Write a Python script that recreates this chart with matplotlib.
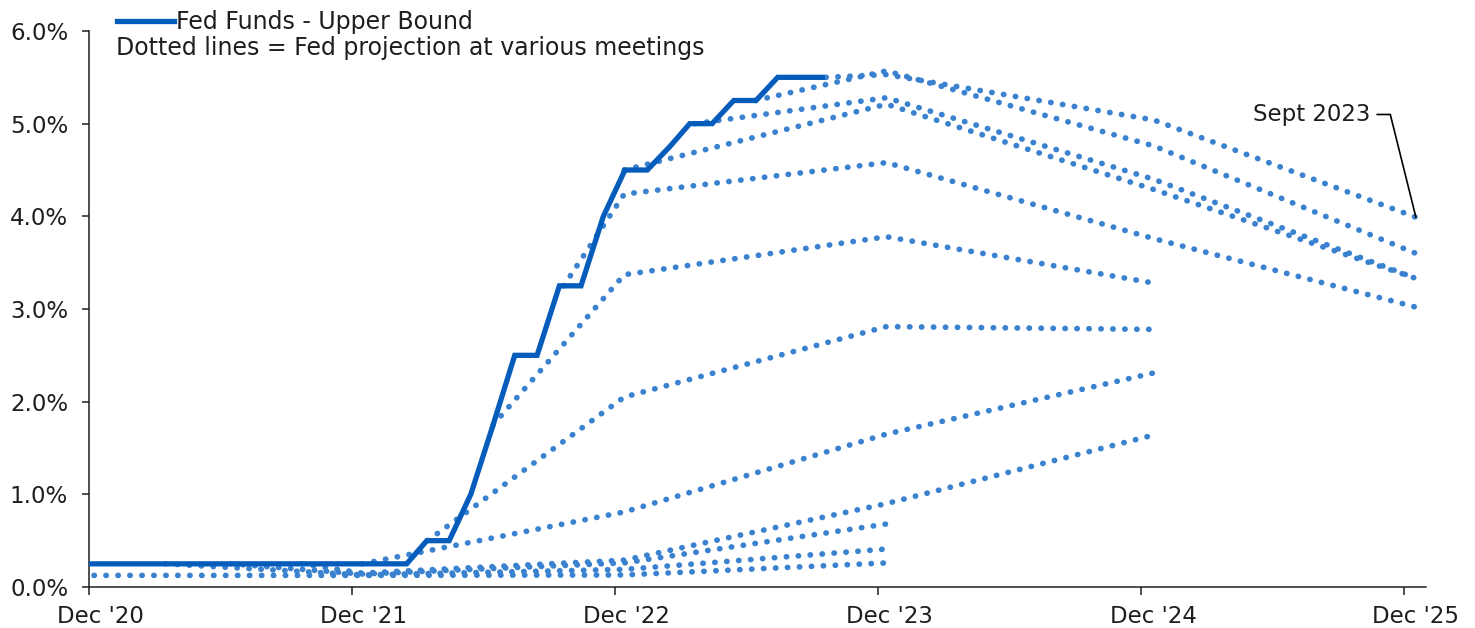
import matplotlib
matplotlib.use("Agg")
import matplotlib.pyplot as plt
import matplotlib.dates as mdates
import matplotlib.ticker as mticker
import pandas as pd

# Fed funds upper bound, monthly (mid-month)
ff_dates = pd.date_range("2020-11-01", "2023-09-01", freq="MS") + pd.Timedelta(days=14)
ff_upper = [0.25, 0.25,
            0.25, 0.25, 0.25, 0.25, 0.25, 0.25, 0.25, 0.25, 0.25, 0.25, 0.25, 0.25,
            0.25, 0.25, 0.50, 0.50, 1.00, 1.75, 2.50, 2.50, 3.25, 3.25, 4.00, 4.50,
            4.50, 4.75, 5.00, 5.00, 5.25, 5.25, 5.50, 5.50, 5.50]

# SEP meetings: meeting date, rate at the meeting, year-end projections
year_ends = ["2021-12-15", "2022-12-14", "2023-12-13", "2024-12-18", "2025-12-17"]
meeting_dates = ["2020-12-08", "2021-03-17", "2021-06-16", "2021-09-22",
                 "2021-12-15", "2022-03-16", "2022-06-15", "2022-09-21",
                 "2022-12-14", "2023-03-22", "2023-06-14", "2023-09-20"]
meeting_rates = [0.125, 0.25, 0.25, 0.25, 0.25, 0.50, 1.75, 3.25, 4.50, 5.00, 5.25, 5.50]
# index into year_ends of the first projected year-end
first_year = [0, 0, 0, 0, 1, 1, 1, 1, 2, 2, 2, 2]
projections = [
    [0.125, 0.13, 0.26],         # Dec 2020
    [0.13, 0.19, 0.41],          # Mar 2021
    [0.14, 0.26, 0.68],          # Jun 2021
    [0.15, 0.29, 0.90, 1.64],    # Sep 2021
    [0.81, 1.65, 2.31],          # Dec 2021
    [2.05, 2.81, 2.78],          # Mar 2022
    [3.37, 3.78, 3.28],          # Jun 2022
    [4.24, 4.58, 3.76, 3.02],    # Sep 2022
    [5.21, 4.29, 3.33],          # Dec 2022
    [5.28, 4.40, 3.33],          # Mar 2023
    [5.57, 4.76, 3.60],          # Jun 2023
    [5.53, 5.04, 3.99],          # Sep 2023
]

FF_COLOR = "#065cbb"
DOT_COLOR = "#3a82cf"
TXT = "#1e1e1e"
FS = 16.5
FS_LEG = 17

plt.rcParams["font.family"] = ["DejaVu Sans"]

fig = plt.figure(figsize=(14.75, 6.28), dpi=100)
ax = fig.add_axes([89 / 1475, 41 / 628, (1426 - 89) / 1475, 556 / 628])

for d, r, k, proj in zip(meeting_dates, meeting_rates, first_year, projections):
    xs = pd.to_datetime([d] + year_ends[k:k + len(proj)])
    ys = [r] + proj
    ax.plot(xs, ys, color=DOT_COLOR, lw=4.1, dashes=(0.05, 2.05),
            dash_capstyle="round", zorder=2)

ff_line, = ax.plot(ff_dates, ff_upper, color=FF_COLOR, lw=3.8,
                   solid_joinstyle="miter", zorder=3, label="Fed Funds - Upper Bound")

ax.set_xlim(pd.Timestamp("2020-12-01"), pd.Timestamp("2025-12-31"))
ax.set_ylim(0, 6)

ax.xaxis.set_major_locator(mdates.MonthLocator(bymonth=12, bymonthday=1))
ax.xaxis.set_major_formatter(mticker.NullFormatter())
ax.xaxis.set_minor_locator(mdates.MonthLocator(bymonth=12, bymonthday=17))
ax.xaxis.set_minor_formatter(mdates.DateFormatter("Dec '%y"))
ax.tick_params(axis="x", which="major", length=6, width=1.1, color=TXT)
ax.tick_params(axis="x", which="minor", length=0, pad=13, labelsize=FS, labelcolor=TXT)

ax.yaxis.set_major_locator(mticker.MultipleLocator(1))
ax.yaxis.set_major_formatter(mticker.FuncFormatter(lambda v, p: f"{v:.1f}%"))
ax.tick_params(axis="y", length=5, width=1.1, color=TXT, pad=10, labelsize=FS, labelcolor=TXT)

for s in ["top", "right"]:
    ax.spines[s].set_visible(False)
for s in ["left", "bottom"]:
    ax.spines[s].set_color(TXT)
    ax.spines[s].set_linewidth(1.1)

leg = ax.legend(handles=[ff_line], loc="upper left", frameon=False,
                bbox_to_anchor=(117 / 1475, 1 - 10 / 628), bbox_transform=fig.transFigure,
                borderpad=0, borderaxespad=0, handlelength=2.4, handletextpad=0.12,
                fontsize=FS_LEG, labelcolor=TXT)
fig.text(116 / 1475, 1 - 48 / 628, "Dotted lines = Fed projection at various meetings",
         fontsize=FS_LEG, color=TXT, va="center", ha="left")

# label the most recent projection
sep23_x = pd.Timestamp(year_ends[4])
sep23_y = projections[-1][-1]
ax.annotate("Sept 2023", xy=(sep23_x, sep23_y), xytext=(-33, 74), textcoords="offset points",
            ha="right", va="center", fontsize=FS, color=TXT,
            arrowprops=dict(arrowstyle="-", color="black", lw=1.2, shrinkA=3, shrinkB=0,
                            connectionstyle="angle,angleA=0,angleB=104,rad=0"))

fig.savefig("out.png", dpi=100)
